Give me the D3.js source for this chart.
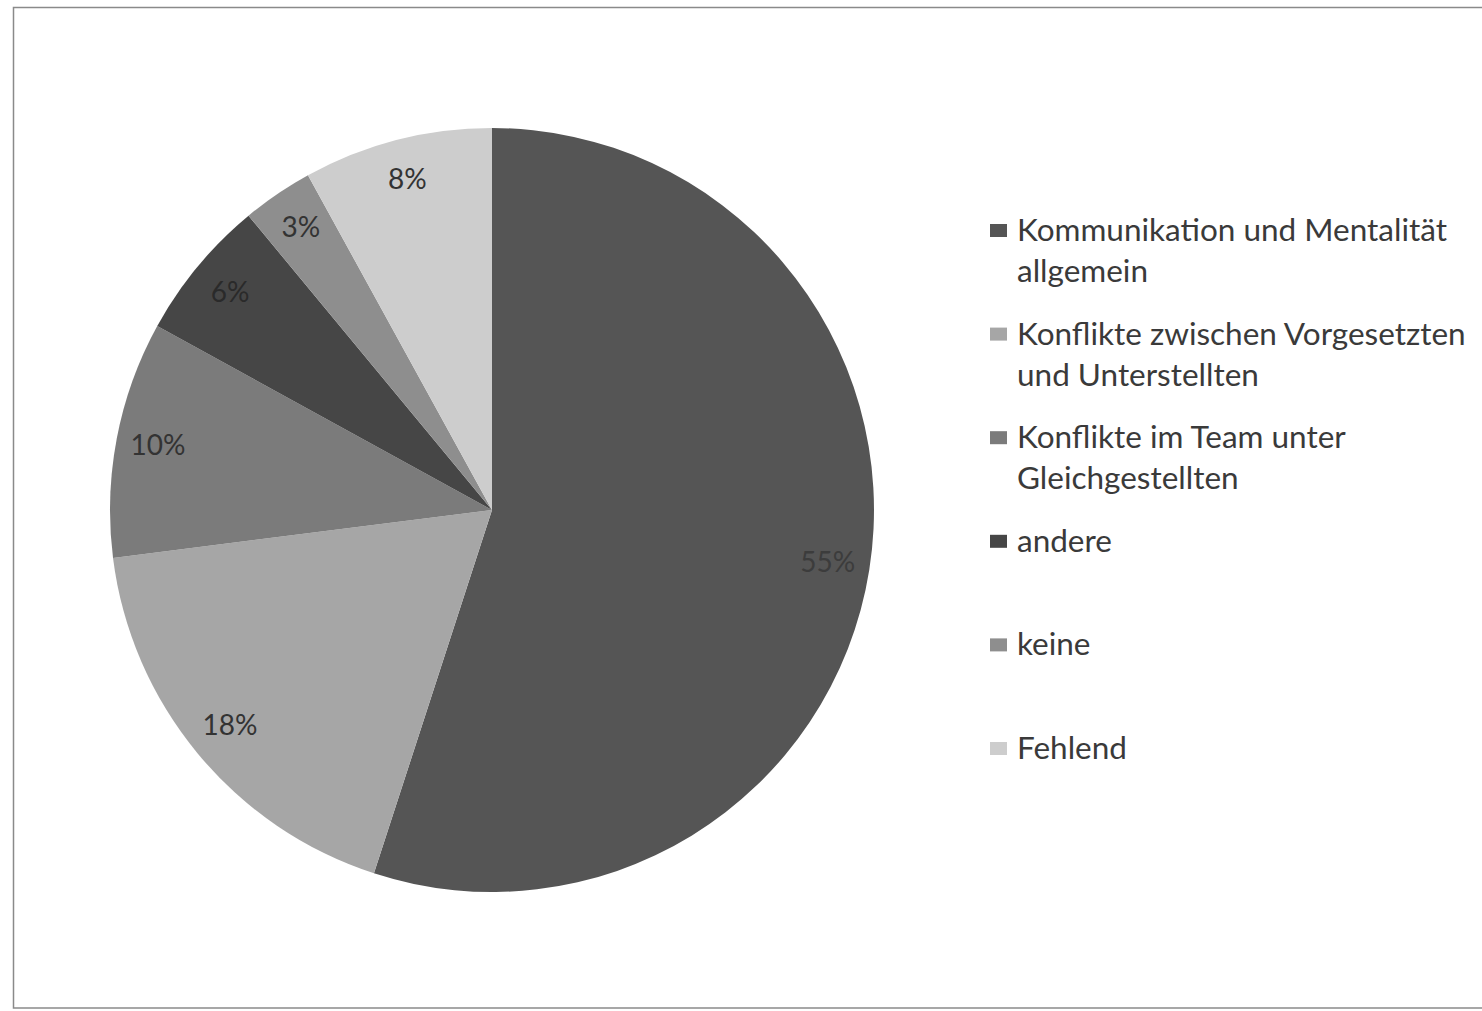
<!DOCTYPE html>
<html>
<head>
<meta charset="utf-8">
<script src="https://cdn.jsdelivr.net/npm/d3@7"></script>
<style>
  html, body { margin: 0; padding: 0; background: #fff; }
  svg { display: block; }
</style>
</head>
<body>
<svg id="chart" width="1482" height="1011"></svg>
<script>
// Reasons for conflicts, share of answers
const categories = [
  "Kommunikation und Mentalität allgemein",
  "Konflikte zwischen Vorgesetzten und Unterstellten",
  "Konflikte im Team unter Gleichgestellten",
  "andere",
  "keine",
  "Fehlend"
];
const legendLines = [
  ["Kommunikation und Mentalität", "allgemein"],
  ["Konflikte zwischen Vorgesetzten", "und Unterstellten"],
  ["Konflikte im Team unter", "Gleichgestellten"],
  ["andere"],
  ["keine"],
  ["Fehlend"]
];
const values = [55, 18, 10, 6, 3, 8];
const percentLabels = ["55%", "18%", "10%", "6%", "3%", "8%"];
const sliceColors = ["#555555", "#a6a6a6", "#7b7b7b", "#464646", "#8e8e8e", "#cdcdcd"];
const labelColors = ["#3c3c3c", "#333333", "#333333", "#2a2a2a", "#333333", "#333333"];

const svg = d3.select("#chart");
const font = "Lato, 'Open Sans', sans-serif";

// chart frame
svg.append("rect")
  .attr("x", 13.5).attr("y", 7.5)
  .attr("width", 1480).attr("height", 1000.5)
  .attr("fill", "#fff")
  .attr("stroke", "#8a8a8a")
  .attr("stroke-width", 1.5);

const cx = 492, cy = 510, radius = 382;

const color = d3.scaleOrdinal().domain(categories).range(sliceColors);

const pie = d3.pie().sort(null).value(d => d.value);
const data = categories.map((c, i) => ({ name: c, value: values[i], label: percentLabels[i], labelColor: labelColors[i] }));
const arcs = pie(data);

const arc = d3.arc().innerRadius(0).outerRadius(radius);
const labelArc = d3.arc().innerRadius(radius * 0.89).outerRadius(radius * 0.89);

const g = svg.append("g").attr("transform", `translate(${cx},${cy})`);

g.selectAll("path.slice")
  .data(arcs)
  .join("path")
  .attr("class", "slice")
  .attr("d", arc)
  .attr("fill", d => color(d.data.name));

g.selectAll("text.pct")
  .data(arcs)
  .join("text")
  .attr("class", "pct")
  .attr("transform", d => `translate(${labelArc.centroid(d)})`)
  .attr("text-anchor", "middle")
  .attr("dy", "0.3em")
  .attr("font-family", font)
  .attr("font-size", 28)
  .attr("fill", d => d.data.labelColor)
  .text(d => d.data.label);

// legend
const legendX = 990, legendTop = 230, entryStep = 103.6, lineStep = 41;
const legend = svg.append("g");
const items = legend.selectAll("g.item")
  .data(categories)
  .join("g")
  .attr("class", "item")
  .attr("transform", (d, i) => `translate(${legendX},${legendTop + i * entryStep})`);

items.append("rect")
  .attr("x", 0).attr("y", -6)
  .attr("width", 17).attr("height", 13)
  .attr("fill", d => color(d));

items.each(function (d, i) {
  const t = d3.select(this).append("text")
    .attr("x", 27).attr("y", 0)
    .attr("font-family", font)
    .attr("font-size", 31.5)
    .attr("fill", "#3a3a3a");
  legendLines[i].forEach((line, j) => {
    t.append("tspan").attr("x", 27).attr("dy", j === 0 ? "0.35em" : lineStep).text(line);
  });
});
</script>
</body>
</html>
